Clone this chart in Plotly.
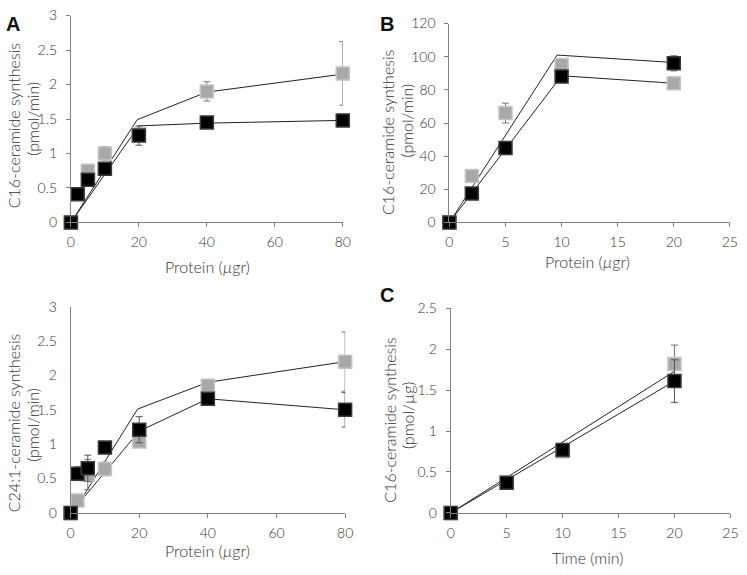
import plotly.graph_objects as go

# ---------------- data ----------------
# Panel A (top): C16-ceramide synthesis vs protein
a1_x_black = [0, 2, 5, 10, 20, 40, 80]
a1_black = [0, 0.41, 0.62, 0.78, 1.26, 1.45, 1.48]
a1_black_err = [0, 0, 0, 0, 0.14, 0, 0]
a1_x_gray = [0, 5, 10, 20, 40, 80]
a1_gray = [0, 0.75, 1.0, 1.28, 1.90, 2.16]
a1_gray_err = [0, 0.05, 0.1, 0.1, 0.14, 0.46]
a1_line_up_x = [0, 19.5, 40, 80]
a1_line_up_y = [0, 1.49, 1.89, 2.15]
a1_line_lo_x = [0, 20, 40, 80]
a1_line_lo_y = [0, 1.40, 1.44, 1.48]

# Panel B: C16-ceramide synthesis vs protein
b_x = [0, 2, 5, 10, 20]
b_gray = [0, 28, 66, 95, 84]
b_gray_err = [0, 3, 6, 2, 0]
b_black = [0, 17.5, 45, 88, 96]
b_black_err = [0, 1, 1, 1, 4.5]
b_line_up_x = [0, 9.6, 20]
b_line_up_y = [0, 101, 96.5]
b_line_lo_x = [0, 10, 20]
b_line_lo_y = [0, 88.5, 84]

# Panel A (bottom): C24:1-ceramide synthesis vs protein
a2_x = [0, 2, 5, 10, 20, 40, 80]
a2_black = [0, 0.57, 0.65, 0.95, 1.21, 1.66, 1.50]
a2_black_err = [0, 0.1, 0.19, 0, 0.19, 0, 0.25]
a2_gray = [0, 0.18, 0.56, 0.64, 1.04, 1.85, 2.20]
a2_gray_err = [0, 0, 0.22, 0.1, 0, 0.08, 0.43]
a2_line_up_x = [2.4, 19.5, 40, 80]
a2_line_up_y = [0.14, 1.51, 1.90, 2.20]
a2_line_lo_x = [2.4, 20, 40, 80]
a2_line_lo_y = [0.14, 1.19, 1.66, 1.50]

# Panel C: C16-ceramide synthesis vs time
c_x = [0, 5, 10, 20]
c_gray = [0, 0.37, 0.75, 1.82]
c_gray_err = [0, 0.02, 0.03, 0.23]
c_black = [0, 0.37, 0.77, 1.61]
c_black_err = [0, 0.02, 0.04, 0.26]
c_line_up_x = [0, 20]
c_line_up_y = [0, 1.73]
c_line_lo_x = [0, 20]
c_line_lo_y = [0, 1.61]

# ---------------- style ----------------
GRAY = "#a8a8a8"
GRAY_EDGE = "#c4c4c4"
BLACK = "#000000"
AXIS = "#808080"
TXT = "#333333"
FONT = "Lato"
MSIZE = 13

fig = go.Figure()


def add_panel(ax, lines, gx, gy, ge, bx, by, be):
    xa = "x" if ax == 1 else f"x{ax}"
    ya = "y" if ax == 1 else f"y{ax}"
    for lx, ly in lines:
        fig.add_trace(go.Scatter(x=lx, y=ly, mode="lines", xaxis=xa, yaxis=ya,
                                 line=dict(color="#222222", width=1),
                                 showlegend=False, hoverinfo="skip", cliponaxis=False))
    fig.add_trace(go.Scatter(x=gx, y=gy, mode="markers", xaxis=xa, yaxis=ya,
                             marker=dict(symbol="square", size=MSIZE, color=GRAY,
                                         line=dict(color=GRAY_EDGE, width=1.5)),
                             error_y=dict(type="data", array=ge, visible=True,
                                          color="#777777", thickness=1, width=3.5),
                             showlegend=False, cliponaxis=False))
    fig.add_trace(go.Scatter(x=bx, y=by, mode="markers", xaxis=xa, yaxis=ya,
                             marker=dict(symbol="square", size=MSIZE, color=BLACK,
                                         line=dict(color="#3a3a3a", width=1.5)),
                             error_y=dict(type="data", array=be, visible=True,
                                          color="#555555", thickness=1, width=3.5),
                             showlegend=False, cliponaxis=False))


add_panel(1, [(a1_line_up_x, a1_line_up_y), (a1_line_lo_x, a1_line_lo_y)],
          a1_x_gray, a1_gray, a1_gray_err, a1_x_black, a1_black, a1_black_err)
add_panel(2, [(b_line_up_x, b_line_up_y), (b_line_lo_x, b_line_lo_y)],
          b_x, b_gray, b_gray_err, b_x, b_black, b_black_err)
add_panel(3, [(a2_line_up_x, a2_line_up_y), (a2_line_lo_x, a2_line_lo_y)],
          a2_x, a2_gray, a2_gray_err, a2_x, a2_black, a2_black_err)
add_panel(4, [(c_line_up_x, c_line_up_y), (c_line_lo_x, c_line_lo_y)],
          c_x, c_gray, c_gray_err, c_x, c_black, c_black_err)

W, H = 747, 575


def px(x):
    return x / W


def py(y):
    return 1 - y / H


tickfont = dict(family=FONT, size=14, color=TXT, weight=300)


def xaxis(dom, rng, dtick, anchor):
    return dict(domain=dom, range=rng, dtick=dtick, anchor=anchor,
                showline=True, linecolor=AXIS, linewidth=1, showgrid=False,
                zeroline=False, ticks="outside", ticklen=4, tickcolor=AXIS,
                tickfont=tickfont, ticklabelstandoff=3)


def yaxis(dom, rng, dtick, anchor, ticks="outside"):
    return dict(domain=dom, range=rng, dtick=dtick, anchor=anchor,
                showline=True, linecolor=AXIS, linewidth=1, showgrid=False,
                zeroline=False, ticks=ticks, ticklen=4, tickcolor=AXIS,
                tickfont=tickfont, ticklabelstandoff=6 if ticks else 10)


fig.update_layout(
    width=W, height=H, margin=dict(l=0, r=0, t=0, b=0),
    paper_bgcolor="white", plot_bgcolor="white",
    xaxis=xaxis([px(68), px(344.3)], [0, 80], 20, "y"),
    yaxis=yaxis([py(220), py(6.7)], [0, 3], 0.5, "x"),
    xaxis2=xaxis([px(452.7), px(737.7)], [0, 25], 5, "y2"),
    yaxis2=yaxis([py(220), py(15)], [0, 120], 20, "x2"),
    xaxis3=xaxis([px(67.7), px(346.7)], [0, 80], 20, "y3"),
    yaxis3=yaxis([py(519.3), py(306.7)], [0, 3], 0.5, "x3", ticks=""),
    xaxis4=xaxis([px(454), px(738.3)], [0, 25], 5, "y4"),
    yaxis4=yaxis([py(519.3), py(308.3)], [0, 2.5], 0.5, "x4"),
)

tfont = dict(family=FONT, size=16, color=TXT, weight=300)
ann = []


def ytitle(x, y, text):
    ann.append(dict(x=px(x), y=py(y), xref="paper", yref="paper", text=text,
                    textangle=-90, showarrow=False, font=tfont,
                    xanchor="center", yanchor="middle"))


def xtitle(x, y, text):
    ann.append(dict(x=px(x), y=py(y), xref="paper", yref="paper", text=text,
                    showarrow=False, font=tfont, xanchor="center", yanchor="middle"))


def letter(x, y, text):
    ann.append(dict(x=px(x), y=py(y), xref="paper", yref="paper", text=f"<b>{text}</b>",
                    showarrow=False, font=dict(family="Liberation Sans", size=20, color="#111"),
                    xanchor="center", yanchor="middle"))


ytitle(10, 120, "C16-ceramide synthesis")
ytitle(29.5, 113, "(pmol/min)")
ytitle(390, 127, "C16-ceramide synthesis")
ytitle(409.5, 115, "(pmol/min)")
ytitle(10, 426, "C24:1-ceramide synthesis")
ytitle(29, 429, "(pmol/min)")
ytitle(391.5, 423, "C16-ceramide synthesis")
ytitle(410, 418, "(pmol/µg)")
xtitle(207, 265, "Protein (<i>µ</i>gr)")
xtitle(593, 260, "Protein (<i>µ</i>gr)")
xtitle(207, 558, "Protein (<i>µ</i>gr)")
xtitle(593, 565, "Time (min)")
letter(9, 15, "A")
letter(389, 15, "B")
letter(389, 295, "C")
fig.update_layout(annotations=ann)

fig.write_html("out.html", config={"displayModeBar": False},
               post_script="document.body.style.margin='0px';document.body.style.padding='0px';")
